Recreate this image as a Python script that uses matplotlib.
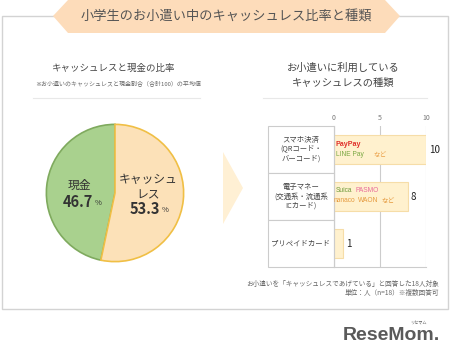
import matplotlib.pyplot as plt
from matplotlib.patches import Polygon, Rectangle

plt.rcParams['font.family'] = ['Noto Sans CJK JP', 'DejaVu Sans']

# data
pie_labels = ['現金', 'キャッシュ\nレス']
pie_values = [46.7, 53.3]
bar_cats = ['スマホ決済\n(QRコード・\nバーコード)', '電子マネー\n(交通系・流通系\nICカード)', 'プリペイドカード']
bar_values = [10, 8, 1]
bar_ticks = [0, 5, 10]

W, H = 450, 360
fig = plt.figure(figsize=(W/100, H/100), dpi=100)


def ftext(x, y, s, **kw):
    # text on top of every axes, placed in pixels from the top-left corner
    return fig.text(x/W, 1 - y/H, s, **kw)


# overlay in pixel coords
ov = fig.add_axes([0, 0, 1, 1])
ov.set_xlim(0, W)
ov.set_ylim(H, 0)
ov.axis('off')

ov.add_patch(Rectangle((2, 16), 446, 293, fc='white', ec='#d3d3d3', lw=1))
ov.add_patch(Polygon([(53, 16), (68, 0), (385, 0), (400, 16), (385, 33), (68, 33)],
                     closed=True, fc='#FDDCBA', ec='none'))
ov.text(226, 16.5, '小学生のお小遣い中のキャッシュレス比率と種類', ha='center', va='center',
        fontsize=9.5, color='#555555')

# left titles
ov.text(114, 68, 'キャッシュレスと現金の比率', ha='center', va='center', fontsize=6.8, color='#444444')
ov.text(118, 83, '※お小遣いのキャッシュレスと現金割合（合計100）の平均値', ha='center', va='center',
        fontsize=4.3, color='#666666')
ov.plot([33, 200], [98, 98], color='#e8e8e8', lw=0.8)

# right titles
ov.text(343, 68, 'お小遣いに利用している', ha='center', va='center', fontsize=7.4, color='#444444')
ov.text(343, 83, 'キャッシュレスの種類', ha='center', va='center', fontsize=7.4, color='#444444')
ov.plot([263, 427], [98, 98], color='#e8e8e8', lw=0.8)

# arrow
ov.add_patch(Polygon([(223, 152), (243, 188), (223, 224)], closed=True, fc='#FFF0D4', ec='none'))

# category label cells
row_top, row_h = 126, 47
for i, cat in enumerate(bar_cats):
    y0 = row_top + i*row_h
    ov.add_patch(Rectangle((268, y0), 66, row_h, fc='white', ec='#cccccc', lw=0.8))
    ov.text(301, y0 + row_h/2, cat, ha='center', va='center', fontsize=5.3,
            color='#444444', linespacing=1.25)

# footer
ov.text(439, 284, 'お小遣いを「キャッシュレスであげている」と回答した18人対象', ha='right', va='center',
        fontsize=4.8, color='#666666')
ov.text(439, 293, '単位：人（n=18）※複数回答可', ha='right', va='center', fontsize=4.8, color='#666666')

# logo
ov.text(440, 336, 'ReseMom.', ha='right', va='center', fontsize=14, fontweight='bold',
        color='#5a5a5a', family='Liberation Sans')
ov.text(418, 323, 'リセマム', ha='center', va='center', fontsize=3, color='#5a5a5a')

# pie
cx, cy, r = 115, 193, 70
pax = fig.add_axes([(cx - r)/W, 1 - (cy + r)/H, 2*r/W, 2*r/H])
wedges, _ = pax.pie(pie_values, startangle=90, counterclock=True,
                    colors=['#A9D18E', '#FCE1B8'],
                    wedgeprops=dict(lw=1.2))
wedges[0].set_edgecolor('#7FAA5E')
wedges[1].set_edgecolor('#F0BF45')
pax.set_xlim(-1.02, 1.02)
pax.set_ylim(-1.02, 1.02)
pax.set_aspect('equal')

ftext(79, 185, pie_labels[0], ha='center', va='center', fontsize=8.5, color='#333333')
ftext(78, 202, f'{pie_values[0]:.1f}', ha='center', va='center', fontsize=10.5,
      fontweight='bold', color='#333333')
ftext(98, 203, '%', ha='center', va='center', fontsize=5.5, color='#333333')
ftext(148, 187, pie_labels[1], ha='center', va='center', fontsize=8.5, color='#333333',
      linespacing=1.2)
ftext(145, 209, f'{pie_values[1]:.1f}', ha='center', va='center', fontsize=10.5,
      fontweight='bold', color='#333333')
ftext(165, 210, '%', ha='center', va='center', fontsize=5.5, color='#333333')

# bars
bx0, bx1 = 334, 426
bax = fig.add_axes([bx0/W, 1 - (row_top + 3*row_h)/H, (bx1 - bx0)/W, 3*row_h/H])
bax.patch.set_alpha(0)
ypos = list(range(len(bar_values)))
bax.barh(ypos, bar_values, height=0.62, color='#FFF1CE', edgecolor='#F6DDA8', lw=0.8, zorder=2)
bax.set_xlim(0, 10)
bax.set_ylim(2.5, -0.5)
bax.set_xticks(bar_ticks)
bax.xaxis.tick_top()
bax.tick_params(axis='x', length=0, labelsize=5, colors='#777777', pad=3)
bax.set_yticks([])
bax.grid(axis='x', color='#cccccc', lw=0.8, zorder=0)
for s in ['top', 'right']:
    bax.spines[s].set_visible(False)
for s in ['left', 'bottom']:
    bax.spines[s].set_color('#cccccc')
    bax.spines[s].set_linewidth(0.8)
for y, v in zip(ypos, bar_values):
    bax.text(v + 0.3, y, str(v), ha='left', va='center', fontsize=7, color='#222222')

# brand names in bars
fs = 4.8
lat = ['Liberation Sans', 'Noto Sans CJK JP']
ftext(336, 144, 'PayPay', fontsize=fs + 0.3, color='#E0302A', fontweight='bold', va='center', family=lat)
ftext(336, 155, 'LINE Pay', fontsize=fs, color='#7BA843', va='center', family=lat)
ftext(373, 155, 'など', fontsize=fs, color='#EBA048', va='center')
ftext(336, 191, 'Suica', fontsize=fs, color='#6E9A3A', va='center', family=lat)
ftext(356, 191, 'PASMO', fontsize=fs, color='#E86B9B', va='center', family=lat)
ftext(334, 201, 'nanaco', fontsize=fs, color='#E59A3E', va='center', family=lat)
ftext(358, 201, 'WAON', fontsize=fs, color='#E59A3E', va='center', family=lat)
ftext(381, 201, 'など', fontsize=fs, color='#E59A3E', va='center')

fig.savefig('out.png', dpi=100)
